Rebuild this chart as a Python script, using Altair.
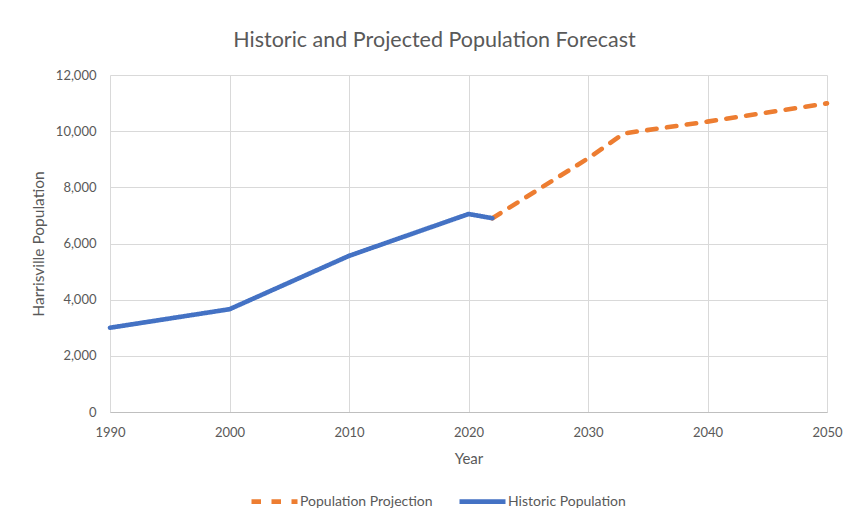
import altair as alt
import pandas as pd

hist_years = [1990, 2000, 2010, 2020, 2022]
hist_pop = [3000, 3660, 5560, 7050, 6900]
proj_years = [2022, 2030, 2033, 2040, 2050]
proj_pop = [6900, 9030, 9920, 10340, 10990]
series_names = ["Population Projection", "Historic Population"]
series_colors = ["#ED7D31", "#4472C4"]
series_dash = [[9.5, 10.5], [1, 0]]
x_ticks = [1990, 2000, 2010, 2020, 2030, 2040, 2050]
y_ticks = [0, 2000, 4000, 6000, 8000, 10000, 12000]

rows = []
for y, p in zip(proj_years, proj_pop):
    rows.append({"Year": y, "Population": p, "Series": series_names[0]})
for y, p in zip(hist_years, hist_pop):
    rows.append({"Year": y, "Population": p, "Series": series_names[1]})
df = pd.DataFrame(rows)

FONT = "Lato"
GRAY = "#595959"

chart = alt.Chart(df).mark_line(strokeWidth=4.6, strokeCap="round", strokeJoin="round").encode(
    x=alt.X("Year:Q",
            scale=alt.Scale(domain=[1990, 2050], nice=False, zero=False),
            axis=alt.Axis(values=x_ticks, format="d", title="Year", grid=True,
                          gridColor="#D9D9D9", domainColor="#BFBFBF", ticks=False,
                          labelFlush=False, labelPadding=14, titlePadding=12,
                          labelFontSize=13, titleFontSize=15, titleFontWeight="normal",
                          labelColor=GRAY, titleColor=GRAY, labelFont=FONT, titleFont=FONT)),
    y=alt.Y("Population:Q",
            scale=alt.Scale(domain=[0, 12000], nice=False),
            axis=alt.Axis(values=y_ticks, format=",.0f", title="Harrisville Population",
                          grid=True, gridColor="#D9D9D9", domain=False, ticks=False,
                          labelPadding=14, titlePadding=9, labelFontSize=13,
                          titleFontSize=15.5, titleFontWeight="normal",
                          labelColor=GRAY, titleColor=GRAY, labelFont=FONT, titleFont=FONT)),
    color=alt.Color("Series:N",
                    scale=alt.Scale(domain=series_names, range=series_colors),
                    legend=alt.Legend(title=None, orient="none", direction="horizontal",
                                      legendX=139, legendY=401, symbolType="stroke",
                                      symbolSize=2116, symbolStrokeWidth=4.6,
                                      labelFontSize=14, labelColor=GRAY, labelFont=FONT,
                                      labelOffset=0, columnPadding=17)),
    strokeDash=alt.StrokeDash("Series:N",
                              scale=alt.Scale(domain=series_names, range=series_dash),
                              legend=None),
).properties(
    width=717,
    height=337,
    padding={"left": 102, "top": 67, "right": 16, "bottom": 100},
    autosize=alt.AutoSizeParams(type="none"),
    title=alt.TitleParams("Historic and Projected Population Forecast", fontSize=21.5,
                          font=FONT, color=GRAY, fontWeight="normal", offset=18, dx=-34),
).configure_view(stroke=None)

chart.save("out.html", embed_options={"renderer": "svg", "actions": False})
